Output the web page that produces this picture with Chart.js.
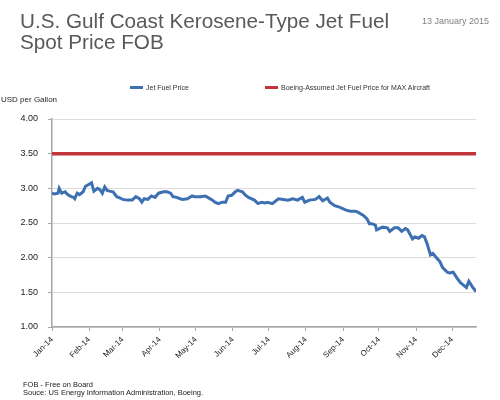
<!DOCTYPE html>
<html>
<head>
<meta charset="utf-8">
<script src="https://cdn.jsdelivr.net/npm/chart.js@4/dist/chart.umd.min.js"></script>
<style>
  html,body{margin:0;padding:0;background:#fff;}
  body{width:500px;height:400px;position:relative;overflow:hidden;font-family:"Liberation Sans",Arial,sans-serif;}
  #wrap{position:absolute;left:0;top:0;width:500px;height:400px;}
  .t{position:absolute;white-space:nowrap;}
  #title{left:20px;top:9.5px;font-size:20.7px;line-height:21px;color:#595959;}
  #date{left:422px;top:17px;font-size:9px;line-height:9px;color:#7f7f7f;}
  #unit{left:1px;top:95px;font-size:8px;color:#222;}
  #foot{left:23px;top:381px;font-size:7.5px;line-height:8px;color:#222;}
  .lg{position:absolute;top:84px;font-size:7px;color:#333;white-space:nowrap;}
  .sw{display:inline-block;width:13px;height:3px;vertical-align:middle;margin-right:3px;position:relative;top:-1px;}
</style>
</head>
<body>
<div id="wrap"><canvas id="c" width="500" height="400"></canvas></div>
<div class="t" id="title">U.S. Gulf Coast Kerosene-Type Jet Fuel<br>Spot Price FOB</div>
<div class="t" id="date">13 January 2015</div>
<div class="t" id="unit">USD per Gallon</div>
<div class="lg" style="left:130px"><span class="sw" style="background:#3d6fb3"></span>Jet Fuel Price</div>
<div class="lg" style="left:265px"><span class="sw" style="background:#c0363a"></span>Boeing-Assumed Jet Fuel Price for MAX Aircraft</div>
<div class="t" id="foot">FOB - Free on Board<br>Souce: US Energy Information Administration, Boeing.</div>
<script>
// Day of year 2014 (0 = 1 Jan)
const days = [0,2,5,6,8,11,13,16,18,19,21,23,26,28,31,33,35,38,40,42,44,46,48,51,54,57,59,63,67,70,73,75,77,80,83,86,89,93,96,99,101,104,107,109,113,117,119,124,128,130,134,136,139,142,145,147,150,153,155,159,161,164,169,172,175,178,180,184,189,193,197,201,205,209,211,215,220,223,226,230,232,236,240,245,249,253,255,260,263,265,267,270,271,276,280,282,286,289,292,295,297,301,303,306,309,311,313,316,318,321,324,326,330,332,335,338,341,343,346,348,351,354];
const jetFuel = [2.93,2.92,2.93,3.00,2.93,2.95,2.91,2.88,2.87,2.85,2.93,2.91,2.95,3.03,3.06,3.08,2.96,3.00,2.98,2.93,3.02,2.97,2.96,2.95,2.88,2.86,2.84,2.83,2.83,2.88,2.85,2.80,2.85,2.84,2.89,2.87,2.93,2.95,2.95,2.93,2.88,2.87,2.85,2.84,2.85,2.89,2.88,2.88,2.89,2.87,2.83,2.80,2.78,2.80,2.80,2.89,2.90,2.95,2.97,2.95,2.91,2.87,2.83,2.78,2.80,2.79,2.80,2.78,2.85,2.84,2.83,2.85,2.83,2.87,2.80,2.83,2.84,2.88,2.82,2.86,2.80,2.75,2.73,2.69,2.67,2.67,2.66,2.61,2.56,2.49,2.49,2.47,2.40,2.44,2.43,2.38,2.43,2.43,2.38,2.42,2.40,2.27,2.30,2.28,2.32,2.30,2.21,2.04,2.06,2.00,1.94,1.86,1.79,1.78,1.79,1.71,1.64,1.61,1.57,1.66,1.58,1.51];
const boeingDays = [0,354];
const boeingPrice = [3.50,3.50];
const monthStarts = [0,31,59,90,120,151,181,212,243,273,304,334];
const monthLabels = ["Jan-14","Feb-14","Mar-14","Apr-14","May-14","Jun-14","Jul-14","Aug-14","Sep-14","Oct-14","Nov-14","Dec-14"];
const yTicks = [1.0,1.5,2.0,2.5,3.0,3.5,4.0];

new Chart(document.getElementById('c'), {
  type: 'line',
  data: {
    datasets: [
      {label:'Jet Fuel Price', data: days.map((d,i)=>({x:d,y:jetFuel[i]})), borderColor:'#3d6fb3', borderWidth:3, pointRadius:0, tension:0, order:1},
      {label:'Boeing-Assumed Jet Fuel Price for MAX Aircraft', data: boeingDays.map((d,i)=>({x:d,y:boeingPrice[i]})), borderColor:'#c0363a', borderWidth:3.5, pointRadius:0, order:2}
    ]
  },
  options: {
    responsive:false, animation:false, devicePixelRatio:1,
    layout:{padding:{left:0,right:24,top:119,bottom:0}},
    plugins:{legend:{display:false}, tooltip:{enabled:false}},
    scales:{
      x:{type:'linear', min:0, max:354,
        afterBuildTicks:(s)=>{s.ticks = monthStarts.map(v=>({value:v}));},
        afterFit:(s)=>{s.height = 73;},
        ticks:{autoSkip:false, minRotation:45, maxRotation:45, padding:4, color:'#222', font:{family:'Liberation Sans', size:8},
          callback:(v)=>{const i=monthStarts.indexOf(v); return i>=0?monthLabels[i]:'';}},
        grid:{drawOnChartArea:false, drawTicks:true, tickLength:4, tickColor:'#a6a6a6'},
        border:{color:'#a6a6a6', width:1.5}
      },
      y:{min:1, max:4,
        afterBuildTicks:(s)=>{s.ticks = yTicks.map(v=>({value:v}));},
        afterFit:(s)=>{s.width = 52;},
        ticks:{padding:10, color:'#222', font:{family:'Liberation Sans', size:9}, callback:(v)=>v.toFixed(2)},
        grid:{color:'#dcdcdc', lineWidth:1, tickLength:4, tickColor:'#a6a6a6'},
        border:{color:'#a6a6a6', width:1.5}
      }
    }
  }
});
</script>
</body>
</html>
